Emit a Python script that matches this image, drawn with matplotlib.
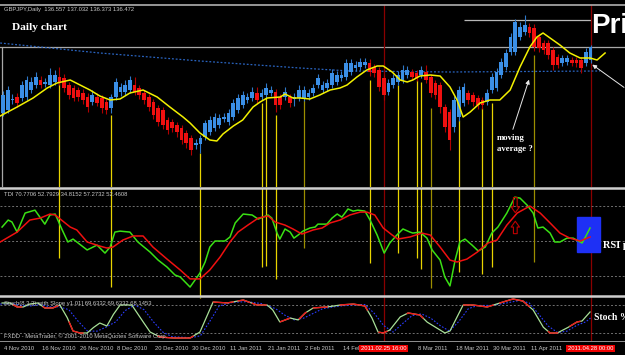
import numpy as np
import matplotlib
matplotlib.use("Agg")
import matplotlib.pyplot as plt
from matplotlib.lines import Line2D
from matplotlib.patches import Rectangle
from matplotlib.transforms import blended_transform_factory

# ---- daily candles (bar index 0 = 4 Nov 2010) ----
opens = [130.2, 130.5, 131.5, 131.8, 131.7, 131.8, 132.5, 133.0, 133.5, 133.1,
         133.0, 133.3, 133.8, 133.7, 133.0, 132.7, 132.5, 132.2, 131.8, 131.3,
         131.8, 131.7, 131.3, 130.7, 131.8, 132.3, 132.3, 132.5, 133.0, 132.7,
         132.2, 131.8, 131.3, 130.7, 130.5, 129.5, 129.3, 129.0, 128.7, 128.2,
         127.7, 127.0, 127.1, 127.8, 128.3, 128.7, 129.0, 129.6, 129.3, 129.8,
         130.5, 131.0, 131.5, 131.7, 132.2, 131.8, 132.0, 132.2, 132.3, 131.8,
         131.8, 131.8, 131.6, 131.7, 131.7, 131.8, 132.2, 133.0, 132.5, 132.7,
         133.0, 133.3, 133.7, 133.8, 134.3, 134.7, 134.8, 135.0, 135.2, 134.8,
         134.5, 133.7, 132.3, 133.0, 133.3, 133.5, 134.0, 134.3, 134.2, 134.0,
         134.3, 133.8, 133.2, 133.0, 130.8, 130.3, 128.8, 129.8, 131.2, 132.2,
         132.0, 131.7, 131.5, 131.3, 132.5, 132.7, 134.0, 134.8, 136.3, 136.3,
         137.8, 138.3, 138.8, 138.7, 137.8, 137.2, 137.2, 136.5, 135.8, 135.2,
         135.3, 135.5, 135.5, 135.5, 135.2, 135.5]
closes = [132.0, 132.5, 131.6, 131.2, 133.0, 133.5, 133.3, 133.8, 133.0, 133.3,
          134.0, 134.0, 133.3, 132.7, 132.0, 131.7, 131.8, 131.5, 130.8, 132.0,
          131.2, 130.7, 130.5, 131.8, 133.3, 132.8, 133.0, 133.5, 132.3, 132.0,
          131.5, 130.8, 130.0, 129.3, 129.0, 128.5, 128.7, 128.3, 127.5, 127.2,
          126.5, 127.2, 127.7, 129.2, 129.5, 129.8, 129.7, 129.8, 130.2, 131.2,
          131.7, 132.0, 131.8, 132.3, 131.5, 132.2, 132.7, 132.5, 131.0, 131.0,
          132.3, 131.2, 131.8, 132.5, 132.5, 132.2, 132.7, 133.7, 133.0, 133.2,
          134.2, 134.0, 134.0, 135.2, 135.2, 135.0, 135.3, 135.3, 134.3, 134.2,
          132.8, 132.0, 133.2, 133.7, 134.0, 134.5, 134.5, 133.8, 133.7, 134.5,
          133.5, 132.2, 132.0, 130.8, 128.8, 127.5, 131.5, 132.5, 132.8, 131.5,
          131.3, 131.0, 131.0, 132.2, 133.8, 134.3, 135.3, 136.2, 137.8, 139.3,
          138.8, 139.0, 138.2, 136.8, 136.7, 136.5, 136.0, 135.0, 135.0, 135.7,
          135.7, 135.2, 135.2, 134.7, 136.3, 136.8]
highs = [132.4, 132.9, 132.1, 132.2, 133.4, 133.9, 133.8, 134.3, 133.9, 133.7,
         134.7, 134.5, 134.8, 134.1, 133.3, 133.0, 132.8, 132.6, 132.2, 132.5,
         132.2, 132.0, 131.6, 132.1, 133.7, 133.2, 133.5, 133.9, 133.8, 133.0,
         132.5, 132.1, 131.6, 131.0, 130.8, 129.8, 129.6, 129.3, 129.0, 128.5,
         128.0, 127.6, 128.0, 129.5, 129.9, 130.2, 130.1, 130.2, 130.6, 131.6,
         132.1, 132.4, 132.2, 132.8, 132.8, 132.6, 133.2, 132.9, 132.6, 132.1,
         132.8, 132.1, 132.2, 133.0, 132.9, 132.6, 133.1, 134.1, 133.4, 133.6,
         134.6, 134.4, 134.4, 135.6, 135.6, 135.4, 135.7, 135.7, 135.6, 135.1,
         134.8, 134.0, 133.6, 134.1, 134.4, 135.0, 134.9, 134.6, 134.5, 134.9,
         135.0, 134.1, 133.5, 133.3, 131.1, 130.6, 131.9, 132.9, 133.2, 132.5,
         132.3, 132.0, 131.8, 132.6, 134.2, 134.7, 135.7, 136.6, 138.2, 139.6,
         139.3, 140.0, 139.2, 139.1, 138.1, 137.5, 137.5, 136.8, 136.1, 136.0,
         136.0, 135.8, 135.8, 135.8, 136.7, 137.0]
lows = [129.9, 130.2, 131.1, 130.8, 131.4, 131.5, 132.2, 132.7, 132.7, 132.8,
        132.7, 133.0, 133.0, 132.3, 131.6, 131.4, 131.4, 131.1, 130.3, 131.0,
        130.9, 130.2, 130.1, 130.2, 131.5, 131.9, 132.0, 132.2, 132.0, 131.6,
        131.1, 130.4, 129.6, 128.9, 128.6, 128.1, 128.3, 127.8, 127.1, 126.7,
        126.0, 126.6, 126.2, 127.5, 128.0, 128.4, 128.7, 129.3, 129.0, 129.5,
        130.2, 130.7, 131.2, 131.4, 131.2, 131.5, 131.7, 131.9, 130.3, 130.6,
        131.5, 130.8, 130.9, 131.4, 131.4, 131.5, 131.9, 132.7, 132.2, 132.4,
        132.7, 133.0, 133.4, 133.5, 134.0, 134.4, 134.5, 134.7, 133.9, 133.8,
        132.4, 131.5, 132.0, 132.7, 133.0, 133.2, 133.7, 133.5, 133.4, 133.7,
        133.2, 131.8, 131.6, 130.2, 128.3, 126.5, 128.3, 129.4, 130.9, 131.1,
        130.9, 130.6, 130.6, 131.0, 132.2, 132.4, 133.7, 134.5, 136.0, 136.0,
        137.5, 138.0, 137.8, 136.4, 136.3, 136.1, 135.6, 134.5, 134.7, 134.9,
        135.0, 134.9, 134.8, 134.2, 134.9, 135.2]

# yellow moving average (bar, price) and the blue dotted long average
ma_points = [(-0.6, 129.9), (3, 130.8), (6.4, 131.7), (9.4, 132.7), (11.5, 133.2),
             (14.3, 133.5), (16.4, 133.0), (18.5, 132.5), (20.6, 131.9), (22.8, 131.5),
             (24.9, 131.6), (27, 132.2), (29.8, 132.5), (32.8, 131.8), (35.5, 130.8),
             (38.3, 129.8), (39.8, 129.2), (41.9, 128.2), (44, 127.5), (45.5, 127.4),
             (46.8, 128.1), (49, 128.9), (51, 129.5), (53.2, 130.8), (54.7, 131.3),
             (56.2, 131.7), (59, 131.8), (60, 132.1), (61.7, 131.7), (63.2, 131.7),
             (65.3, 131.6), (67.4, 132.0), (69.6, 132.5), (71.7, 132.7), (73.2, 133.0),
             (75.3, 133.8), (77.4, 134.5), (79.6, 134.9), (80.9, 134.9), (82.8, 134.3),
             (84.5, 133.5), (86, 133.3), (87.2, 133.5), (88.7, 133.9), (90.9, 134.0),
             (93, 133.9), (95.1, 132.8), (96.6, 131.5), (97.9, 129.8), (99.4, 130.3),
             (101.5, 131.2), (103.6, 131.5), (105.7, 131.5), (107.9, 132.5), (110, 134.8),
             (112.1, 136.8), (113.6, 137.8), (114.9, 138.2), (116.4, 137.7), (118.5, 137.0),
             (120.6, 136.2), (122.8, 135.7), (124.9, 135.7), (126.4, 135.5), (128.1, 136.2)]
slow_ma_points = [(-0.6, 137.2), (20.6, 136.2), (41.9, 135.4), (63.2, 134.7),
                  (73.8, 134.4), (95.1, 134.3), (127, 134.4)]

# marked bars: vertical lines (bar, top price in main, bottom TDI value)
mark_bars = [12, 23, 42, 55, 56, 58, 64, 78, 84, 88, 89, 91, 97, 102, 104, 113]
mark_top = [133.5, 130.0, 126.2, 131.2, 131.7, 130.0, 131.5, 133.5, 133.0, 133.5,
            133.3, 130.7, 129.5, 130.7, 131.2, 136.0]
mark_tdi = [41.3, 26.3, 21.0, 36.6, 37.1, 30.5, 46.4, 38.7, 43.8, 41.3,
            35.6, 25.8, 34.1, 33.0, 36.6, 39.2]
mark_olive = [64, 91, 113]
cursor_bars = [81, 125]

# TDI (bar, value)
tdi_green = [(-0.2, 57.2), (1.1, 60.8), (1.9, 59.8), (3.0, 54.6), (4.7, 64.4), (6.8, 65.9),
             (8.9, 58.7), (10, 63.4), (11.1, 63.9), (12.6, 55.7), (13.8, 49.5), (14.9, 51.0),
             (17.9, 45.4), (20, 47.9), (21.7, 43.8), (22.8, 46.9), (23.8, 54.6), (24.9, 55.1),
             (27, 54.6), (28.7, 49.5), (31.3, 44.3), (33, 40.2), (34.9, 36.6), (36.6, 32.5),
             (37.7, 31.5), (39.8, 26.3), (41.9, 33.5), (43, 39.2), (44, 46.9), (45.1, 50),
             (47.2, 50), (48.3, 52.1), (49.4, 59.3), (51.1, 63.9), (53, 63.4), (54.3, 61.3),
             (55.3, 62.3), (56.4, 63.4), (57.2, 61.8), (58.3, 54.1), (58.9, 51.0), (60, 56.2),
             (61.1, 54.6), (61.9, 51.5), (62.8, 53.1), (63.8, 55.1), (65.3, 56.7), (66.4, 57.2),
             (67, 58.7), (68.9, 58.7), (70, 61.8), (71.1, 63.9), (72.1, 62.3), (73.4, 66.5),
             (74.5, 65.4), (75.5, 65.9), (77, 65.4), (78.1, 60.8), (79.6, 53.1), (81.1, 43.8),
             (82.3, 49.0), (83.8, 53.1), (85.1, 56.2), (86.6, 54.6), (87.2, 54.1), (88.7, 54.6),
             (90.2, 51.5), (91.3, 45.4), (93, 40.2), (94, 31.5), (95.1, 26.9), (96.2, 40.2),
             (97.2, 49.5), (98.3, 51.0), (99.8, 47.9), (101.1, 44.9), (102.6, 46.9), (104, 54.1),
             (105.3, 57.2), (107.2, 64.4), (108.9, 72.6), (110, 72.1), (111.5, 68.5), (112.8, 64.4),
             (113.8, 56.7), (114.9, 57.2), (116.4, 54.1), (117.4, 49.5), (118.5, 49.5), (120, 51.5),
             (121.3, 51.5), (123.2, 49.0), (123.8, 51.5), (124.9, 56.7)]
tdi_red = [(-0.6, 49.5), (3, 54.6), (5.7, 60.8), (7.9, 61.8), (10, 63.9), (11.1, 63.4),
           (14.3, 57.2), (15.7, 55.7), (17.9, 49.5), (20.6, 47.4), (22.1, 46.4), (23.4, 46.9),
           (25.5, 50.5), (27.7, 52.6), (29.8, 52.6), (31.9, 46.9), (34.9, 40.7), (37.7, 35.1),
           (39.8, 30.5), (41.9, 30.5), (44, 35.1), (46.2, 41.8), (48.3, 49.5), (50, 54.6),
           (52.1, 58.2), (54.3, 61.8), (56.4, 62.9), (57.9, 59.8), (60, 58.2), (61.7, 56.2),
           (63.6, 53.6), (66, 55.7), (67.9, 56.7), (69.6, 59.3), (71.7, 60.8), (73.8, 63.4),
           (76, 64.9), (77.4, 64.9), (79.1, 63.4), (80.9, 56.7), (82.8, 53.1), (84, 51.0),
           (86.6, 52.1), (89.1, 54.1), (90.9, 53.1), (93, 46.9), (95.1, 40.2), (96.6, 39.2),
           (98.7, 40.7), (100.9, 44.3), (103.2, 49.0), (105.1, 50.5), (107.2, 58.2), (109.4, 64.4),
           (112.1, 68.0), (114.3, 64.4), (116.4, 59.3), (118.5, 54.1), (120.6, 51.5), (122.8, 50),
           (124.9, 52.1)]
tdi_levels = [68, 50, 32]
# hollow arrows drawn on the TDI panel: (bar, tail value, head value)
tdi_arrows = [(109, 72.4, 64.6), (109, 53.8, 60.2)]

# Stochastic (bar, value)
stoch_main = [(-0.2, 84.3), (1.5, 84.3), (3, 75.7), (4.3, 75.7), (5.7, 82.1), (7.4, 84.3),
              (8.9, 73.6), (10.6, 73.6), (12.1, 80), (13.6, 54.3), (14.9, 24.3), (16.4, 20),
              (17.9, 20), (19.1, 30.7), (20.6, 41.4), (22.1, 35), (23.4, 58.6), (24.9, 80),
              (27.4, 80), (29.1, 54.3), (31.3, 22.1), (33.4, 11.4), (36.2, 9.3), (39.8, 9.3),
              (41.9, 22.1), (44.7, 86.4), (47.7, 84.3), (51.1, 90.7), (54, 80), (56.2, 80),
              (57.4, 69.3), (58.9, 43.6), (61.1, 52.1), (62.8, 47.9), (64.3, 62.9), (66, 73.6),
              (68.9, 75.7), (71.7, 80), (74.5, 82.1), (77, 77.9), (78.5, 52.1), (79.8, 22.1),
              (80.9, 20), (82.3, 26.4), (84.5, 54.3), (86.2, 62.9), (88.7, 58.6), (90.2, 43.6),
              (92.3, 30.7), (94, 20), (95.1, 24.3), (97.9, 80), (100, 80), (103, 75.7),
              (105.7, 84.3), (108.5, 92.9), (110.6, 88.6), (112.8, 69.3), (114.9, 32.9),
              (116.4, 20), (117.9, 20), (120, 30.7), (122.1, 43.6), (123.2, 45.7), (124.9, 65)]
stoch_signal = [(-0.6, 82), (2, 83), (4, 79), (6, 78), (8, 81), (10, 76), (12, 76), (14, 70),
                (16, 45), (18, 24), (20, 24), (22, 33), (24, 44), (26, 68), (28, 80), (30, 70),
                (32, 44), (34, 22), (36, 12), (40, 10), (42, 14), (44, 45), (46, 78), (49, 86),
                (52, 87), (55, 83), (58, 72), (60, 58), (62, 48), (64, 52), (66, 62), (68, 72),
                (71, 77), (74, 80), (77, 81), (79, 62), (81, 36), (83, 22), (85, 40), (87, 57),
                (89, 61), (91, 52), (93, 36), (95, 24), (97, 45), (99, 72), (101, 79), (104, 79),
                (107, 84), (110, 90), (112, 84), (114, 60), (116, 35), (118, 21), (120, 24),
                (122, 36), (124, 44), (125, 52)]
stoch_red_spans = [(2.2, 4), (8.5, 11.7), (14, 17), (33, 40.5), (44.7, 49), (50, 52.5),
                   (53, 56), (59, 61), (63, 64.5), (66, 69), (71.7, 77.5), (80, 81.7),
                   (86, 89.4), (98, 104.3), (105.7, 112), (116, 118), (120.6, 122.8)]
stoch_levels = [80, 20]

# time axis
date_bars = [0, 8, 16, 24, 32, 40, 48, 56, 64, 72, 88, 96, 104, 112]
date_labels = ["4 Nov 2010", "16 Nov 2010", "26 Nov 2010", "8 Dec 2010", "20 Dec 2010",
               "30 Dec 2010", "11 Jan 2011", "21 Jan 2011", "2 Feb 2011", "14 Feb 2011",
               "8 Mar 2011", "18 Mar 2011", "30 Mar 2011", "11 Apr 2011"]
cursor_labels = ["2011.02.25 16:00", "2011.04.28 00:00"]

W, H = 625, 355
XMIN, XMAX = -0.64, 132.34
SMALL = dict(family="Liberation Sans", fontsize=4.2, color="#c8c8c8")
SERIF = dict(family="Liberation Serif", fontweight="bold", color="white")


def fy(y):
    return 1 - y / H


fig = plt.figure(figsize=(W / 100, H / 100), dpi=100, facecolor="black")
ax = fig.add_axes([0, fy(187), 1, 182 / H], facecolor="black")
ax_tdi = fig.add_axes([0, fy(296), 1, 108 / H], facecolor="black")
ax_st = fig.add_axes([0, fy(341), 1, 44 / H], facecolor="black")
for a in (ax, ax_tdi, ax_st):
    a.set_xlim(XMIN, XMAX)
    a.axis("off")
ax.set_ylim(122.8, 141.0)
ax_tdi.set_ylim(21.7, 77.3)
ax_st.set_ylim(2.9, 97.1)

# ---- price panel ----
bars = np.arange(len(opens))
o = np.array(opens)
c = np.array(closes)
up = c >= o
cols = np.where(up, "#3b8fe6", "#f01010")
wick_cols = np.where(up, "#2f78c8", "#b00000")
ax.vlines(bars, lows, highs, colors=wick_cols, lw=0.8, zorder=3)
ax.bar(bars, np.maximum(np.abs(c - o), 0.1), bottom=np.minimum(o, c), width=0.78,
       color=cols, lw=0, zorder=4)

mk, mv = zip(*ma_points)
ax.plot(mk, mv, color="#f2f000", lw=1.1, zorder=5)
sk, sv = zip(*slow_ma_points)
ax.plot(sk, sv, color="#2a64c0", lw=0.9, ls=(0, (1.5, 1.5)), zorder=2)

ax.axhline(136.8, color="#a8a8a8", lw=0.9, zorder=1)
ax.hlines(139.5, 98, 125.2, color="#b8b8b8", lw=0.9, zorder=1)
ax.vlines(-0.2, 122.8, 136.8, color="#a8a8a8", lw=0.9)

for b, top, bot in zip(mark_bars, mark_top, mark_tdi):
    col = "#9c8e00" if b in mark_olive else "#e8d400"
    ax.vlines(b, 122.8, top, color=col, lw=0.9, zorder=2)
    ax_tdi.vlines(b, bot, 77.3, color=col, lw=0.9, zorder=2)
    if bot <= 21.7:
        ax_st.vlines(b, 95, 97.1, color=col, lw=0.9)

for a in (ax, ax_tdi, ax_st):
    for b in cursor_bars:
        a.axvline(b, color="#8a0000", lw=0.9, zorder=1)

ax.annotate("", xy=(112.1, 133.8), xytext=(108.3, 128.3),
            arrowprops=dict(arrowstyle="-|>", color="#e8e8e8", lw=0.7,
                            mutation_scale=6), zorder=6)
ax.annotate("", xy=(124.9, 135.2), xytext=(132.6, 132.6),
            arrowprops=dict(arrowstyle="-|>", color="#e8e8e8", lw=0.7,
                            mutation_scale=6), zorder=6)

# ---- TDI panel ----
for lv in tdi_levels:
    ax_tdi.axhline(lv, color="#707070", lw=0.7, ls=(0, (2, 2)), zorder=1)
ax_tdi.add_patch(Rectangle((122.1, 44.3), 4.9, 18.0, color="#1e30f5", zorder=2))
gk, gv = zip(*tdi_green)
ax_tdi.plot(gk, gv, color="#3ae014", lw=1.1, zorder=4)
rk, rv = zip(*tdi_red)
ax_tdi.plot(rk, rv, color="#f01010", lw=1.1, zorder=5)
for b, v0, v1 in tdi_arrows:
    ax_tdi.annotate("", xy=(b, v1), xytext=(b, v0), zorder=6,
                    arrowprops=dict(arrowstyle="simple,head_width=1.0,head_length=0.7,tail_width=0.45",
                                    fc="none", ec="#c00000", lw=0.8, mutation_scale=6,
                                    shrinkA=0, shrinkB=0))

# ---- stochastic panel ----
for lv in stoch_levels:
    ax_st.axhline(lv, color="#707070", lw=0.7, ls=(0, (2, 2)), zorder=1)
qk, qv = zip(*stoch_signal)
ax_st.plot(qk, qv, color="#2a3cff", lw=0.8, ls=(0, (1.5, 1.5)), zorder=3)
pk, pv = zip(*stoch_main)
grid = np.linspace(pk[0], pk[-1], 1500)
sval = np.interp(grid, pk, pv)
ax_st.plot(grid, sval, color="#a8e098", lw=0.9, zorder=4)
for a0, a1 in stoch_red_spans:
    m = (grid >= a0) & (grid <= a1)
    ax_st.plot(grid[m], sval[m], color="#f01818", lw=1.0, zorder=5)

# ---- time axis ----
tr = blended_transform_factory(ax_st.transData, fig.transFigure)
for b, lab in zip(date_bars, date_labels):
    ax_st.add_line(Line2D([b, b], [fy(341), fy(344)], transform=tr, color="#a0a0a0", lw=0.6))
    ax_st.text(b + 0.3, fy(348.5), lab, transform=tr, ha="left", va="center", **SMALL)
for b, lab in zip(cursor_bars, cursor_labels):
    ax_st.text(b, fy(348.5), lab, transform=tr, ha="center", va="center", zorder=10,
               family="Liberation Sans", fontsize=4.2, color="white",
               bbox=dict(boxstyle="square,pad=0.25", fc="#f00000", ec="none"))

# ---- frame lines ----
for y, col, lw in [(4.5, "#b0b0b0", 1.2), (187.8, "#cfcfcf", 1.8),
                   (296.3, "#cfcfcf", 1.8), (341.3, "#909090", 0.7)]:
    fig.add_artist(Line2D([0, 1], [fy(y), fy(y)], transform=fig.transFigure, color=col, lw=lw))

# ---- texts ----
fig.text(4 / W, fy(10), "GBPJPY,Daily  136.557 137.032 136.373 136.472", va="center", **SMALL)
fig.text(12 / W, fy(28), "Daily chart", va="center", fontsize=8.2, **SERIF)
fig.text(4 / W, fy(194.5), "TDI 70.7706 52.7929 34.8152 57.2732 52.4608", va="center", **SMALL)
fig.text(4 / W, fy(303), "Stoch(8,3,3) with Slope v1.01] 69.6332 69.6332 68.1453", va="center", **SMALL)
fig.text(4 / W, fy(336), "FXDD - MetaTrader, \u00a9 2001-2010 MetaQuotes Software Corp.", va="center", **SMALL)
fig.text(591 / W, fy(26), "Price", va="center", fontsize=20, fontweight="bold",
         family="Liberation Sans", color="white")
fig.text(497 / W, fy(138), "moving", va="center", fontsize=6.3, **SERIF)
fig.text(497 / W, fy(149), "average ?", va="center", fontsize=6.3, **SERIF)
fig.text(603 / W, fy(246), "RSI p", va="center", fontsize=7.4, **SERIF)
fig.text(594 / W, fy(318), "Stoch %", va="center", fontsize=7, **SERIF)

fig.savefig("out.png", dpi=100, facecolor="black")
